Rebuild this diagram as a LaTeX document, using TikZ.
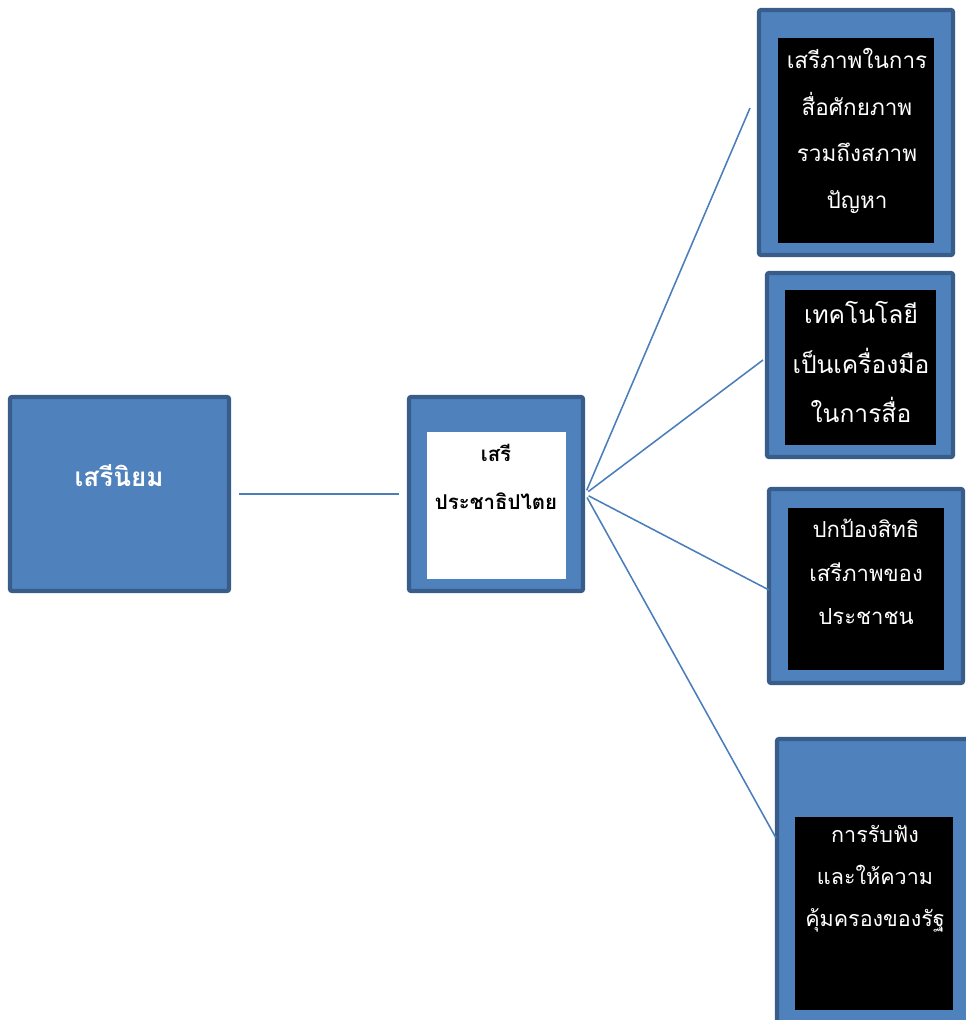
\documentclass[tikz,border=0pt]{standalone}
\usepackage{fontspec}
\newfontfamily\thaifont[Script=Thai]{Loma}
\usetikzlibrary{fit,positioning}
\definecolor{boxblue}{HTML}{4F81BD}
\definecolor{boxedge}{HTML}{385D8A}
\definecolor{linkblue}{HTML}{4A7EBB}

\begin{document}
\begin{tikzpicture}[x=0.025cm,y=-0.025cm,
    outerbox/.style={inner sep=0pt, draw=boxedge, fill=boxblue,
      line width=3pt, rounded corners=1.5pt},
    innerbox/.style={inner sep=0pt, fill=black},
    whitebox/.style={inner sep=0pt, fill=white},
    thtext/.style={align=center, inner sep=0pt, text=white},
    link/.style={draw=linkblue, line width=1.1pt}]
  % page size
  \useasboundingbox (0,0) rectangle (966,1020);
  \clip (0,0) rectangle (966,1020);
  % left box
  \node[outerbox, fit={(10,397) (229,591)}] (liberal) {};
  \node[thtext, font=\thaifont\bfseries\fontsize{18.5pt}{22pt}\selectfont]
    (liberaltxt) at (119,476) {เสรีนิยม};
  % middle box
  \node[outerbox, fit={(409,397) (583,591)}] (demo) {};
  \node[whitebox, fit={(427,432) (566,579)}] (demoin) {};
  \node[thtext, text=black,
    font=\thaifont\bfseries\fontsize{14.5pt}{34pt}\selectfont]
    (demotxt) at (496,477) {เสรี\\ประชาธิปไตย};
  % right boxes
  \node[outerbox, fit={(759,10) (953,255)}] (media) {};
  \node[innerbox, fit={(778,38) (934,243)}] (mediain) {};
  \node[thtext, font=\thaifont\fontsize{16pt}{33pt}\selectfont]
    (mediatxt) at (857,131) {เสรีภาพในการ\\สื่อศักยภาพ\\รวมถึงสภาพ\\ปัญหา};
  \node[outerbox, fit={(767,273) (953,457)}] (tech) {};
  \node[innerbox, fit={(785,290) (936,445)}] (techin) {};
  \node[thtext, font=\thaifont\fontsize{17.5pt}{35pt}\selectfont]
    (techtxt) at (861,362) {เทคโนโลยี\\เป็นเครื่องมือ\\ในการสื่อ};
  \node[outerbox, fit={(769,489) (963,683)}] (rights) {};
  \node[innerbox, fit={(788,508) (944,670)}] (rightsin) {};
  \node[thtext, font=\thaifont\fontsize{15.7pt}{31pt}\selectfont]
    (rightstxt) at (866,572) {ปกป้องสิทธิ\\เสรีภาพของ\\ประชาชน};
  \node[outerbox, fit={(777,739) (974,1030)}] (state) {};
  \node[innerbox, fit={(795,817) (953,1010)}] (statein) {};
  \node[thtext, font=\thaifont\fontsize{15.3pt}{30pt}\selectfont]
    (statetxt) at (875,879) {การรับฟัง\\และให้ความ\\คุ้มครองของรัฐ};
  % connectors
  \coordinate (e1) at (750,108);
  \coordinate (e2) at (763,360);
  \coordinate (e3) at (769,590);
  \coordinate (e4) at (776,838);
  \draw[link, shorten <=0.2cm, shorten >=0.2cm] (liberal) -- (demo);
  \foreach \e in {e1,e2,e3,e4}
    \draw[link, shorten <=0.1cm] (demo.east) -- (\e);
\end{tikzpicture}
\end{document}
